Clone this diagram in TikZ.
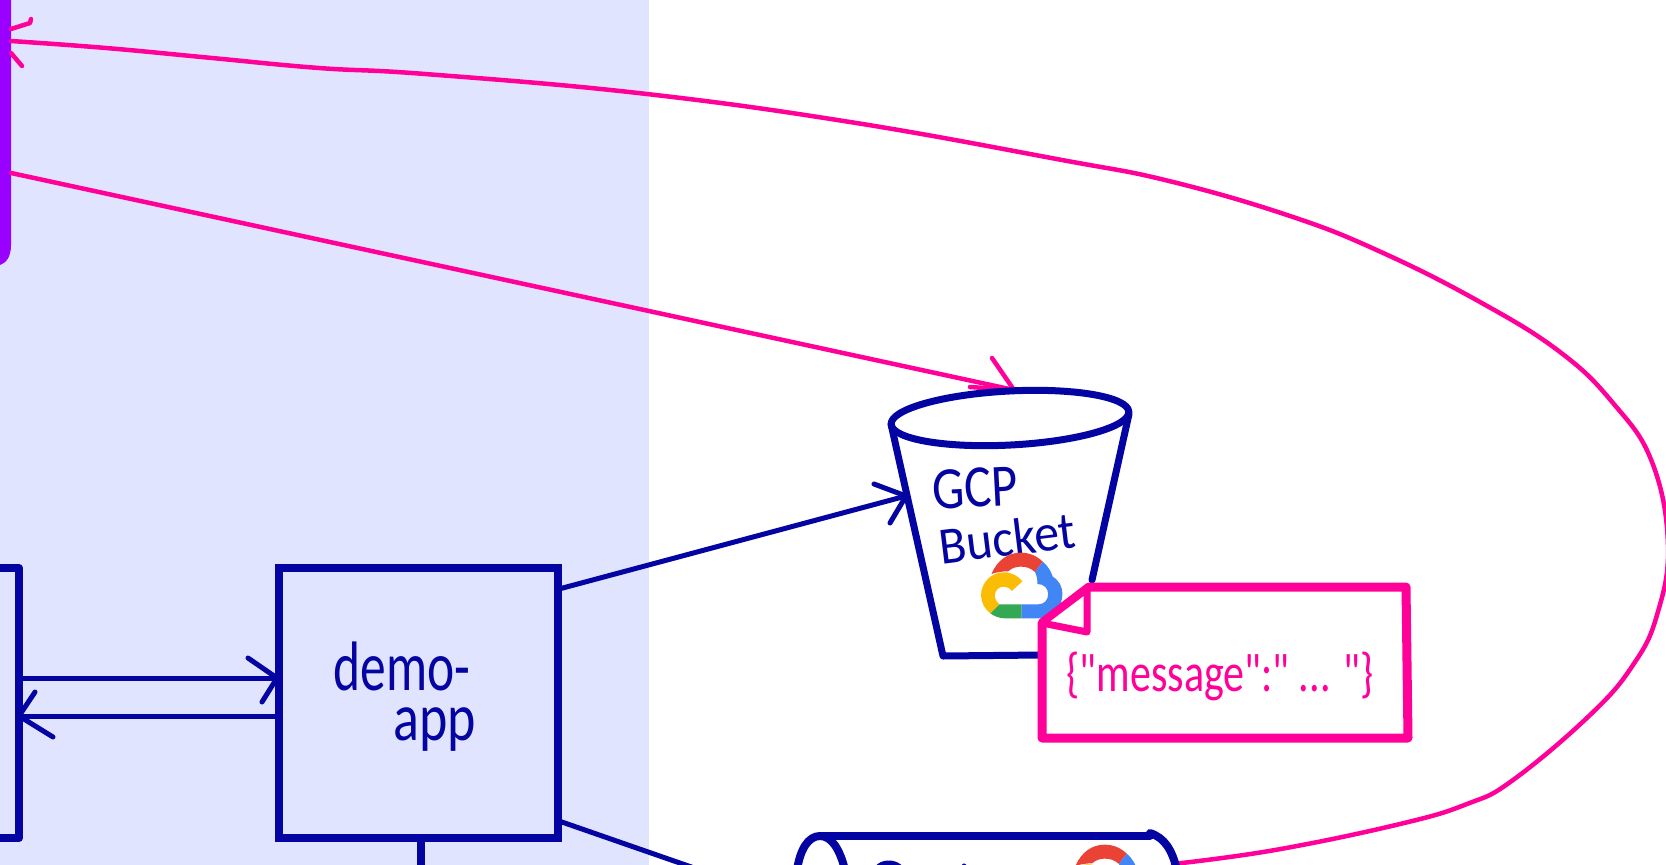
\documentclass[tikz,border=0pt]{standalone}
\usepackage{fontspec}
\setmainfont{Carlito}
\newfontfamily\handfont{Carlito}
\definecolor{navy}{HTML}{0404A2}
\definecolor{hotpink}{HTML}{FF0099}
\definecolor{lav}{HTML}{E1E4FF}
\definecolor{violetbar}{HTML}{9900FF}
\definecolor{gred}{HTML}{EA4335}
\definecolor{gblue}{HTML}{4285F4}
\definecolor{ggreen}{HTML}{34A853}
\definecolor{gyellow}{HTML}{FBBC05}
\tikzset{
  shapeline/.style={draw=navy,line width=8pt,line join=round,line cap=round},
  bucketline/.style={draw=navy,line width=7pt,line join=round,line cap=round},
  navyconn/.style={draw=navy,line width=5pt,line cap=round,line join=round},
  pinkconn/.style={draw=hotpink,line width=4.5pt,line cap=round,line join=round},
  notebox/.style={draw=hotpink,line width=9pt,line join=round,line cap=round,fill=white},
  hand/.style={text=navy,inner sep=0pt,font=\handfont\fontsize{50}{50}\selectfont},
  handpink/.style={text=hotpink,inner sep=0pt,font=\handfont\fontsize{42}{42}\selectfont},
}
\newcommand{\gcplogo}[1]{%
  \begin{scope}[shift={#1},x=0.357pt,y=-0.3333pt]
    \fill[gred] (368,612) .. controls (385,570) and (415,548) .. (450,548) .. controls (475,548) and (495,558) .. (512,575) -- (490,606) .. controls (478,594) and (465,590) .. (450,590) .. controls (438,590) and (425,594) .. (415,604) .. controls (400,604) and (385,606) .. (368,612) -- cycle;
    \fill[gblue] (512,575) .. controls (528,590) and (535,605) .. (540,620) .. controls (558,632) and (567,650) .. (567,672) .. controls (567,715) and (535,745) .. (500,745) -- (452,745) -- (452,703) -- (500,703) .. controls (516,703) and (527,690) .. (527,672) .. controls (527,655) and (515,642) .. (497,642) .. controls (497,628) and (495,615) .. (490,606) -- cycle;
    \fill[ggreen] (452,703) -- (452,745) -- (405,745) .. controls (390,745) and (375,738) .. (365,730) -- (390,703) -- cycle;
    \fill[gyellow] (455,634) -- (425,663) .. controls (420,654) and (410,650) .. (402,650) .. controls (388,650) and (378,662) .. (378,676) .. controls (378,688) and (383,697) .. (390,703) -- (365,730) .. controls (350,718) and (339,698) .. (339,676) .. controls (339,638) and (368,607) .. (402,607) .. controls (425,607) and (443,618) .. (455,634) -- cycle;
  \end{scope}}
\begin{document}
\begin{tikzpicture}[x=1pt,y=-1pt]
  \clip (0,0) rectangle (1666,865);
  \useasboundingbox (0,0) rectangle (1666,865);
  \fill[lav] (0,0) rectangle (649,865);
  \fill[violetbar] (-20,-5) -- (11,-5) -- (11,245) .. controls (11,257) and (6,263) .. (0,265) -- (-20,265) -- cycle;

  % coordinates for free ends
  \coordinate (barL) at (11,41);
  \coordinate (barM) at (11,173);
  \coordinate (topB) at (1014,390);
  \coordinate (cylR) at (1173,864);

  % pink long curve
  \draw[pinkconn] plot[smooth,tension=0.7] coordinates {(cylR) (1275,850) (1400,824) (1467,804) (1513,780) (1590,715) (1633,665) (1657,615) (1668,545) (1652,462) (1613,403) (1560,352) (1480,302) (1381,252) (1290,216) (1169,181) (1062,160) (850,122) (638,93) (425,74) (319,68) (212,58) (106,48) (barL)};
  \draw[pinkconn] (11,29) -- (30,23) -- (31,19);
  \draw[pinkconn] (11,53) -- (22,66);
  % pink straight arrow
  \draw[pinkconn] (barM) -- (topB);
  \draw[pinkconn] (970,387) -- (1014,390) -- (992,358);

  % bucket
  \path[fill=white] (891,424) -- (943,656) -- (1042,655) -- (1092,580) -- (1129,414) -- cycle;
  \draw[bucketline] (891,424) -- (943,656) -- (1042,655);
  \draw[bucketline] (1129,414) -- (1092,580);
  \draw[bucketline] (1010,418) ellipse[x radius=119pt,y radius=27pt,rotate=3];
  \node[hand,rotate=3] (gcp) at (975,488) {\scalebox{1.02}[1.2]{GCP}};
  \node[hand,rotate=7] (bucket) at (1007,538) {\scalebox{1}[1.05]{Bucket}};
  \gcplogo{(860,370)}

  % note
  \path[notebox] (1042,623) -- (1089,587) -- (1406,587) -- (1408,738) -- (1042,738) -- cycle;
  \draw[draw=hotpink,line width=7pt,line join=round,line cap=round,fill=white] (1042,623) -- (1087,589) -- (1087,632) -- cycle;
  \node[handpink] (msg) at (1220,676) {\scalebox{1}[1.3]{\{"message":" ... "\}}};

  % partial left box
  \draw[shapeline] (-10,568) -- (19,568) -- (19,838) -- (-10,838);
  \coordinate (leftA) at (19,678);
  \coordinate (leftB) at (19,716);

  % demo-app
  \node[draw=navy,line width=8pt,fill=none,minimum width=278.5pt,minimum height=270pt,inner sep=0pt,anchor=north west] (demo) at (275,564) {};
  \node[hand] (demotxt) at (402,666) {\scalebox{1.03}[1.4]{demo-}};
  \node[hand] (apptxt) at (435,730) {\scalebox{1.08}[1.35]{app}};

  % double arrows
  \draw[navyconn] (leftA) -- (277,678);
  \draw[navyconn] (248,658) -- (277,678) -- (262,702);
  \draw[navyconn] (277,716) -- (leftB);
  \draw[navyconn] (35,692) -- (leftB) -- (53,737);

  % demo to bucket
  \coordinate (bucketIn) at (906,496);
  \draw[navyconn] (559,589) -- (bucketIn);
  \draw[navyconn] (874,484) -- (bucketIn) -- (890,523);

  % stub and lower line
  \coordinate (stubEnd) at (421,870);
  \coordinate (lowEnd) at (700,870);
  \draw[draw=navy,line width=8pt] (421,838) -- (stubEnd);
  \draw[navyconn] (559,821) -- (lowEnd);

  % cylinder
  \draw[shapeline] (797,870) .. controls (800,850) and (808,836) .. (820,836) .. controls (832,836) and (840,850) .. (845,870);
  \draw[shapeline] (820,836) -- (1150,836);
  \draw[shapeline] (1150,833) .. controls (1165,838) and (1172,850) .. (1177,870);
  % tops of the strokes cut off by the lower edge
  \draw[navyconn] (877,868) .. controls (882,862) and (893,861) .. (900,867);
  \draw[navyconn] (964,866) -- (966,870);
  \gcplogo{(944,662)}
\end{tikzpicture}
\end{document}
